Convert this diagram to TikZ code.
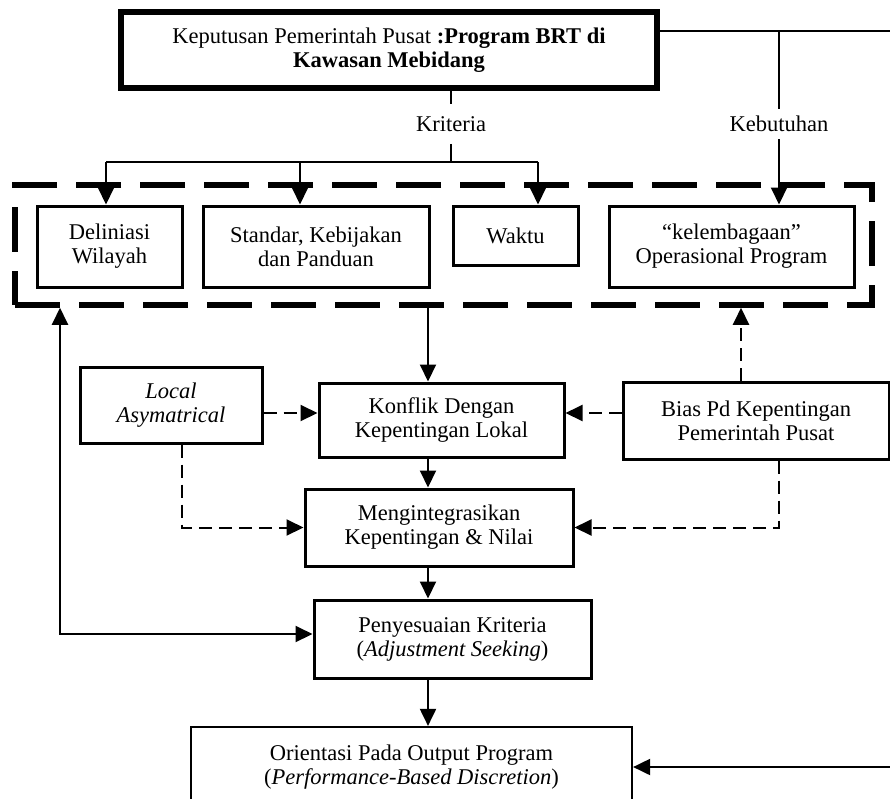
\documentclass[tikz,border=0pt]{standalone}
\usepackage{fontspec}
\setmainfont{Liberation Serif}
\usetikzlibrary{positioning, arrows.meta}

\begin{document}
\begin{tikzpicture}[x=1pt, y=-1pt, font=\fontsize{22.5}{24}\selectfont,
	>={Triangle[length=17pt, width=16pt]}]
	\tikzset{
		box/.style={draw, line width=3pt, align=center, inner sep=0pt},
		topbox/.style={box, line width=6pt},
		arr/.style={->, line width=2pt},
		darr/.style={arr, dash pattern=on 13pt off 7pt},
		dashframe/.style={draw, line width=5.5pt, dash pattern=on 45pt off 19pt, inner sep=0pt},
		lbl/.style={fill=white, inner xsep=4pt, inner ysep=7pt}
	}
	\useasboundingbox (0,0) rectangle (890,798);
	\clip (0,0) rectangle (890,798);
	
	% 顶层
	\node[topbox, minimum width=536, minimum height=76] (kpp) at (389,50)
		{Keputusan Pemerintah Pusat \textbf{:Program BRT di}\\\textbf{Kawasan Mebidang}};
	
	% 虚线框与四个准则
	\node[dashframe, minimum width=857, minimum height=120] (frm) at (443.5,245) {};
	\node[box, minimum width=145, minimum height=81] (dlw) at (109.5,246.5) {Deliniasi\\Wilayah};
	\node[box, minimum width=226, minimum height=81] (skp) at (316,246.5) {Standar, Kebijakan\\dan Panduan};
	\node[box, minimum width=125, minimum height=59] (wkt) at (515.5,235.5) {Waktu};
	\node[box, minimum width=245, minimum height=81] (kop) at (731.5,246.5) {“kelembagaan”\\Operasional Program};
	
	% 中间层
	\node[box, minimum width=182, minimum height=76] (las) at (171,405) {\textit{Local}\\\textit{Asymatrical}};
	\node[box, minimum width=245, minimum height=74] (kkl) at (441.5,420) {Konflik Dengan\\Kepentingan Lokal};
	\node[box, minimum width=266, minimum height=77] (bias) at (756,420.5) {Bias Pd Kepentingan\\Pemerintah Pusat};
	\node[box, minimum width=268, minimum height=77] (mkn) at (439,527.5) {Mengintegrasikan\\Kepentingan \& Nilai};
	\node[box, minimum width=277, minimum height=78] (pk) at (452.5,639) {Penyesuaian Kriteria\\(\textit{Adjustment Seeking})};
	\node[box, line width=2.2pt, minimum width=441, minimum height=80] (opp) at (411.5,767)
		{Orientasi Pada Output Program\\(\textit{Performance-Based Discretion})};
	
	% Kriteria
	\node[lbl, inner ysep=12pt] (krt) at (451,124) {Kriteria};
	\draw[line width=2pt] (kpp.south -| krt) -- (krt.north);
	\foreach \b/\x [count=\i] in {dlw/106, skp/300, wkt/538} {
		\coordinate (kr\i) at (\x,162);
		\draw[arr] (kr\i) -- (kr\i |- \b.north);
	}
	\draw[line width=2pt] (kr1) -- (kr3);
	\draw[line width=2pt] (krt.south) -- (krt.south |- kr1);
	
	% Kebutuhan
	\coordinate (rt) at (900,31);
	\coordinate (kb) at (779,31);
	\node[lbl] (kbl) at (779,124) {Kebutuhan};
	\draw[line width=2pt] (kb) -- (kbl.north);
	\draw[arr] (kbl.south) -- (kbl.south |- kop.north);
	\draw[arr] (kpp.east |- rt) -- (rt) -- (rt |- opp.east) -- (opp.east);
	
	% 主线
	\coordinate (sp) at (428,0);
	\draw[arr] (frm.south -| sp) -- (kkl.north -| sp);
	\draw[arr] (kkl.south -| sp) -- (mkn.north -| sp);
	\draw[arr] (mkn.south -| sp) -- (pk.north -| sp);
	\draw[arr] (pk.south -| sp) -- (opp.north -| sp);
	
	% 虚线影响
	\coordinate (dl) at (0,413);
	\draw[darr] (las.east |- dl) -- (kkl.west |- dl);
	\draw[darr] (bias.west |- dl) -- (kkl.east |- dl);
	\draw[darr] (bias.north -| 741,0) -- (frm.south -| 741,0);
	\draw[darr] (las.south -| 182,0) |- (mkn.west);
	\draw[darr] (bias.south -| 779,0) |- (mkn.east);
	
	% 反馈
	\coordinate (fb) at (60,634);
	\draw[<->, line width=2pt] (frm.south -| fb) -- (fb) -- (fb -| pk.west);
\end{tikzpicture}
\end{document}
